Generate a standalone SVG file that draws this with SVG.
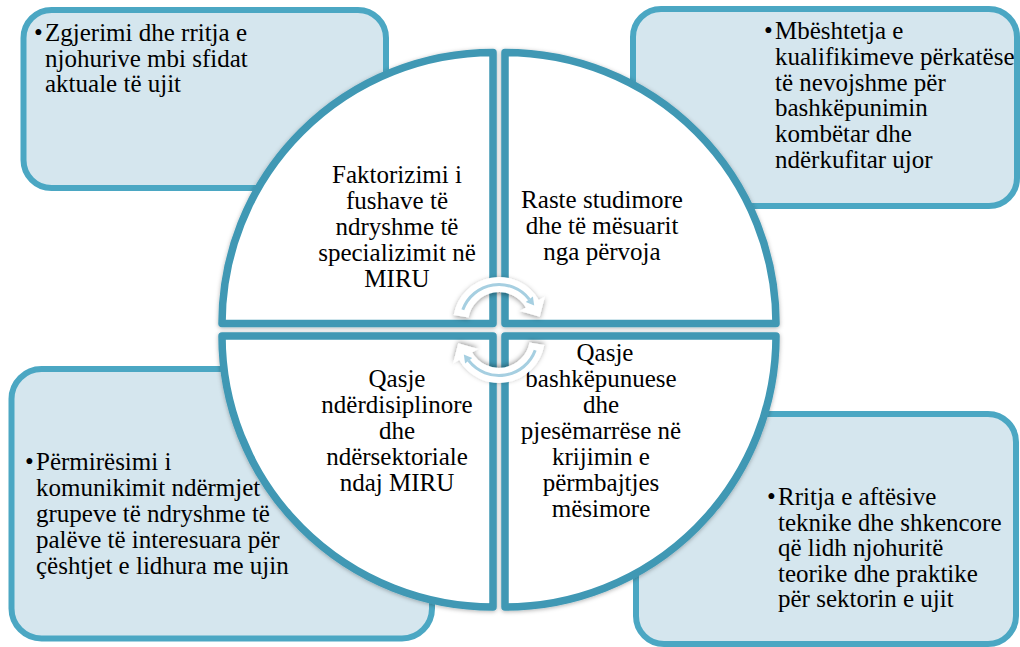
<svg xmlns="http://www.w3.org/2000/svg" width="1020" height="647" viewBox="0 0 1020 647">
<style>
.box{fill:#d5e6ee;stroke:#4ba7c3;stroke-width:6}
.quad{fill:#ffffff;stroke:#3f98b4;stroke-width:7.5;stroke-linejoin:round}
.t{font-size:25px;fill:#000}
.c{text-anchor:middle}
.arr{fill:#ffffff}
.arrl{fill:none;stroke:#a6cfe1;stroke-width:3}
.arrh{fill:#a6cfe1}
</style>
<defs>
<filter id="qs" x="-10%" y="-10%" width="120%" height="120%">
<feDropShadow dx="0" dy="1" stdDeviation="2" flood-color="#000" flood-opacity="0.3"/>
</filter>
<filter id="as" x="-30%" y="-30%" width="160%" height="160%">
<feDropShadow dx="0" dy="1.5" stdDeviation="2.5" flood-color="#000" flood-opacity="0.4"/>
</filter>
</defs>
<g id="box-tl" font-family="Liberation Serif, serif">
<rect class="box" x="23.5" y="10" width="362.5" height="178" rx="28"/>
<text class="t" x="34" y="41">•</text>
<text class="t" x="45" y="41">Zgjerimi dhe rritja e</text>
<text class="t" x="45" y="66.5">njohurive mbi sfidat</text>
<text class="t" x="45" y="92">aktuale të ujit</text>
</g>
<g id="box-tr" font-family="Liberation Serif, serif">
<rect class="box" x="633" y="9" width="384" height="197" rx="28"/>
<text class="t" x="764" y="39">•</text>
<text class="t" x="775" y="39">Mbështetja e</text>
<text class="t" x="775" y="64.8">kualifikimeve përkatëse</text>
<text class="t" x="775" y="90.6">të nevojshme për</text>
<text class="t" x="775" y="116.4">bashkëpunimin</text>
<text class="t" x="775" y="142.2">kombëtar dhe</text>
<text class="t" x="775" y="168">ndërkufitar ujor</text>
</g>
<g id="box-bl" font-family="Liberation Serif, serif">
<rect class="box" x="11.5" y="369" width="420.5" height="269.5" rx="30"/>
<text class="t" x="25" y="470">•</text>
<text class="t" x="36" y="470">Përmirësimi i</text>
<text class="t" x="36" y="496">komunikimit ndërmjet</text>
<text class="t" x="36" y="522">grupeve të ndryshme të</text>
<text class="t" x="36" y="548">palëve të interesuara për</text>
<text class="t" x="36" y="574">çështjet e lidhura me ujin</text>
</g>
<g id="box-br" font-family="Liberation Serif, serif">
<rect class="box" x="636" y="414" width="380" height="230" rx="28"/>
<text class="t" x="767" y="505">•</text>
<text class="t" x="778" y="505">Rritja e aftësive</text>
<text class="t" x="778" y="530.5">teknike dhe shkencore</text>
<text class="t" x="778" y="556">që lidh njohuritë</text>
<text class="t" x="778" y="581.5">teorike dhe praktike</text>
<text class="t" x="778" y="607">për sektorin e ujit</text>
</g>
<g id="quad-tl" font-family="Liberation Serif, serif">
<path class="quad" filter="url(#qs)" d="M493 323.5 L222 323.5 A271 271 0 0 1 493 52.5 Z"/>
<text class="t c" x="397" y="183">Faktorizimi i</text>
<text class="t c" x="397" y="209">fushave të</text>
<text class="t c" x="397" y="235">ndryshme të</text>
<text class="t c" x="397" y="261">specializimit në</text>
<text class="t c" x="397" y="287">MIRU</text>
</g>
<g id="quad-tr" font-family="Liberation Serif, serif">
<path class="quad" filter="url(#qs)" d="M505 323.5 L505 52.5 A271 271 0 0 1 776 323.5 Z"/>
<text class="t c" x="602" y="208">Raste studimore</text>
<text class="t c" x="602" y="234">dhe të mësuarit</text>
<text class="t c" x="602" y="260">nga përvoja</text>
</g>
<g id="quad-bl" font-family="Liberation Serif, serif">
<path class="quad" filter="url(#qs)" d="M493 336 L493 607 A271 271 0 0 1 222 336 Z"/>
<text class="t c" x="397" y="387">Qasje</text>
<text class="t c" x="397" y="413">ndërdisiplinore</text>
<text class="t c" x="397" y="439">dhe</text>
<text class="t c" x="397" y="465">ndërsektoriale</text>
<text class="t c" x="397" y="491">ndaj MIRU</text>
</g>
<g id="quad-br" font-family="Liberation Serif, serif">
<path class="quad" filter="url(#qs)" d="M505 336 L776 336 A271 271 0 0 1 505 607 Z"/>
<text class="t c" x="605" y="361">Qasje</text>
<text class="t c" x="601" y="387">bashkëpunuese</text>
<text class="t c" x="601" y="413">dhe</text>
<text class="t c" x="601" y="439">pjesëmarrëse në</text>
<text class="t c" x="601" y="465">krijimin e</text>
<text class="t c" x="601" y="491">përmbajtjes</text>
<text class="t c" x="601" y="517">mësimore</text>
</g>
<g id="connectors">
<g id="cycle-top">
<path class="arr" filter="url(#as)" d="M453.7 315 A46 46 0 0 1 538.8 300 L544.9 296.5 L539.8 316.7 L519.8 311 L525.8 307.5 A31 31 0 0 0 468.5 317.6 Z"/>
<path class="arrl" d="M462.8 309.8 A38.5 38.5 0 0 1 529.3 299.3"/>
<polygon class="arrh" points="525.8,302.1 532.9,296.5 534.2,305.6"/>
</g>
<g id="cycle-bottom" transform="rotate(180 499 330)">
<path class="arr" filter="url(#as)" d="M453.7 315 A46 46 0 0 1 538.8 300 L544.9 296.5 L539.8 316.7 L519.8 311 L525.8 307.5 A31 31 0 0 0 468.5 317.6 Z"/>
<path class="arrl" d="M462.8 309.8 A38.5 38.5 0 0 1 529.3 299.3"/>
<polygon class="arrh" points="525.8,302.1 532.9,296.5 534.2,305.6"/>
</g>
</g>
</svg>
